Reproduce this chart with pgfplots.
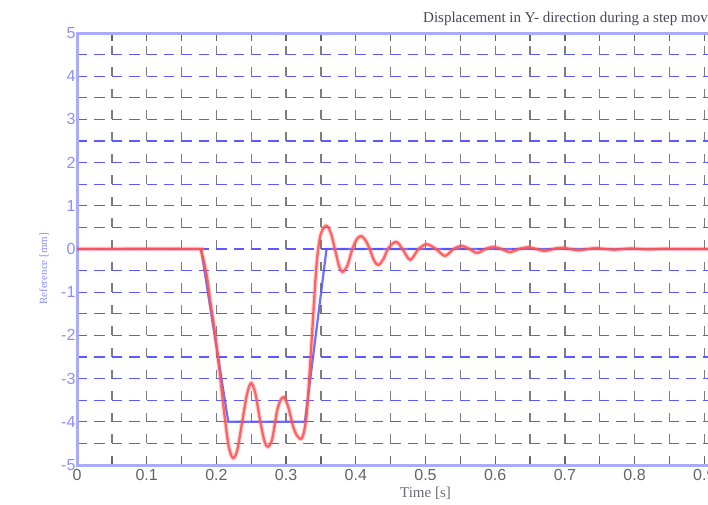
\documentclass[border=0pt]{standalone}
\usepackage{pgfplots}
\pgfplotsset{compat=1.18}
\usepackage{fontspec}
\setmainfont{Liberation Serif}
\newfontfamily\tickfont{Liberation Sans}
\definecolor{gridblue}{RGB}{90,90,255}
\definecolor{gridgray}{RGB}{125,125,125}
\definecolor{reflinecol}{RGB}{85,85,255}
\definecolor{actcol}{RGB}{255,85,85}
\definecolor{ytickcol}{RGB}{140,140,255}
\definecolor{xtickcol}{RGB}{100,100,100}
\definecolor{yaxcol}{RGB}{170,170,255}
\definecolor{titlecol}{RGB}{70,70,90}
\begin{document}
\begin{tikzpicture}
\useasboundingbox (0,0) rectangle (708pt,504pt);
\clip (0,0) rectangle (708pt,504pt);
\begin{axis}[
  at={(77pt,39pt)}, anchor=south west,
  scale only axis, width=697pt, height=432pt,
  xmin=0, xmax=1, ymin=-5, ymax=5,
  xtick={0,0.1,0.2,0.3,0.4,0.5,0.6,0.7,0.8,0.9,1},
  minor xtick={0.05,0.15,0.25,0.35,0.45,0.55,0.65,0.75,0.85,0.95},
  ytick={-5,-4,-3,-2,-1,0,1,2,3,4,5},
  minor ytick={-4.5,-3.5,-2.5,-1.5,-0.5,0.5,1.5,2.5,3.5,4.5},
  grid=both,
  x grid style={gridgray, line width=1.3pt, dash pattern=on 9pt off 12.6pt},
  minor x grid style={gridgray, line width=1.3pt, dash pattern=on 9pt off 12.6pt},
  y grid style={gridblue, line width=1.2pt, dash pattern=on 10.4pt off 7pt},
  minor y grid style={gridblue, line width=1.2pt, dash pattern=on 10.4pt off 7pt},
  tick align=inside,
  major tick length=8pt, minor tick length=8pt,
  x tick style={xtickcol, line width=1.3pt},
  y tick style={gridblue, line width=1.2pt},
  x axis line style={xtickcol, line width=1.6pt},
  y axis line style={yaxcol, line width=3pt},
  /pgf/number format/assume math mode=true,
  x tick label style={font=\fontsize{16}{16}\selectfont\tickfont, text=xtickcol, yshift=-1pt},
  y tick label style={font=\fontsize{16}{16}\selectfont\tickfont, text=ytickcol, xshift=2pt},
  xlabel={Time [s]},
  xlabel style={font=\fontsize{15}{15}\selectfont, text=titlecol!80!white, yshift=1pt},
]
\addplot[reflinecol, line width=2.2pt, opacity=0.85] coordinates {
(0,0) (0.178,0) (0.217,-4) (0.327,-4) (0.358,0) (1,0)};
\addplot[actcol, line width=4.5pt, opacity=0.25, smooth, tension=0.5] coordinates {
(0,0) (0.17,0) (0.178,-0.05) (0.186,-0.6) (0.192,-1.3) (0.198,-1.94) (0.205,-2.9) (0.212,-3.9) (0.218,-4.6) (0.224,-4.84)
(0.230,-4.65) (0.237,-4.0) (0.244,-3.35) (0.250,-3.10) (0.256,-3.35) (0.263,-4.0) (0.269,-4.45) (0.274,-4.58)
(0.280,-4.4) (0.287,-3.75) (0.292,-3.5) (0.297,-3.43) (0.303,-3.65) (0.310,-4.1) (0.316,-4.33) (0.323,-4.37)
(0.329,-3.9) (0.334,-2.8) (0.339,-1.5) (0.344,-0.3) (0.349,0.3) (0.355,0.51) (0.359,0.53) (0.364,0.38)
(0.370,0.0) (0.376,-0.4) (0.381,-0.53) (0.388,-0.38) (0.395,0.0) (0.402,0.24) (0.408,0.30) (0.414,0.2)
(0.420,0.0) (0.426,-0.26) (0.432,-0.37) (0.439,-0.25) (0.446,0.0) (0.453,0.13) (0.459,0.16) (0.467,0.0)
(0.478,-0.25) (0.490,0.0) (0.502,0.11) (0.515,0.0) (0.528,-0.16) (0.540,0.0) (0.552,0.07) (0.563,0.0)
(0.574,-0.09) (0.586,0.0) (0.597,0.05) (0.609,0.0) (0.621,-0.07) (0.634,0.0) (0.647,0.04) (0.659,0.0)
(0.671,-0.045) (0.683,0.0) (0.695,0.03) (0.708,0.0) (0.720,-0.03) (0.733,0.0) (0.745,0.02) (0.758,0.0)
(0.770,-0.015) (0.783,0.0) (0.795,0.012) (0.808,0.0) (0.820,-0.008) (0.833,0.0) (0.845,0.005) (0.86,0.0) (1,0)};
\addplot[actcol, line width=2.3pt, opacity=0.9, smooth, tension=0.5] coordinates {
(0,0) (0.17,0) (0.178,-0.05) (0.186,-0.6) (0.192,-1.3) (0.198,-1.94) (0.205,-2.9) (0.212,-3.9) (0.218,-4.6) (0.224,-4.84)
(0.230,-4.65) (0.237,-4.0) (0.244,-3.35) (0.250,-3.10) (0.256,-3.35) (0.263,-4.0) (0.269,-4.45) (0.274,-4.58)
(0.280,-4.4) (0.287,-3.75) (0.292,-3.5) (0.297,-3.43) (0.303,-3.65) (0.310,-4.1) (0.316,-4.33) (0.323,-4.37)
(0.329,-3.9) (0.334,-2.8) (0.339,-1.5) (0.344,-0.3) (0.349,0.3) (0.355,0.51) (0.359,0.53) (0.364,0.38)
(0.370,0.0) (0.376,-0.4) (0.381,-0.53) (0.388,-0.38) (0.395,0.0) (0.402,0.24) (0.408,0.30) (0.414,0.2)
(0.420,0.0) (0.426,-0.26) (0.432,-0.37) (0.439,-0.25) (0.446,0.0) (0.453,0.13) (0.459,0.16) (0.467,0.0)
(0.478,-0.25) (0.490,0.0) (0.502,0.11) (0.515,0.0) (0.528,-0.16) (0.540,0.0) (0.552,0.07) (0.563,0.0)
(0.574,-0.09) (0.586,0.0) (0.597,0.05) (0.609,0.0) (0.621,-0.07) (0.634,0.0) (0.647,0.04) (0.659,0.0)
(0.671,-0.045) (0.683,0.0) (0.695,0.03) (0.708,0.0) (0.720,-0.03) (0.733,0.0) (0.745,0.02) (0.758,0.0)
(0.770,-0.015) (0.783,0.0) (0.795,0.012) (0.808,0.0) (0.820,-0.008) (0.833,0.0) (0.845,0.005) (0.86,0.0) (1,0)};
\end{axis}
\node[anchor=base west, font=\fontsize{15}{15}\selectfont, text=titlecol, inner sep=0pt] at (423pt,481pt) {Displacement in Y- direction during a step movement};
\node[rotate=90, anchor=west, font=\fontsize{11}{11}\selectfont, text=ytickcol, inner sep=0pt] at (44pt,199pt) {Reference [mm]};
\end{tikzpicture}
\end{document}
